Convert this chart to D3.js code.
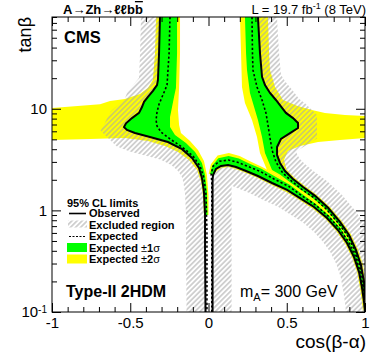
<!DOCTYPE html>
<html>
<head>
<meta charset="utf-8">
<script src="https://cdn.jsdelivr.net/npm/d3@7"></script>
<style>
  body { margin: 0; background: #fff; }
  svg text { font-family: "Liberation Sans", Arial, sans-serif; }
</style>
</head>
<body>
<script>
// axis ticks
const xMajor = [-1, -0.5, 0, 0.5, 1];
const xMinor = [-0.9, -0.8, -0.7, -0.6, -0.4, -0.3, -0.2, -0.1, 0.1, 0.2, 0.3, 0.4, 0.6, 0.7, 0.8, 0.9];
const yMajor = [0.1, 1, 10];
const yMinor = [0.2, 0.3, 0.4, 0.5, 0.6, 0.7, 0.8, 0.9, 2, 3, 4, 5, 6, 7, 8, 9, 20, 30, 40, 50, 60, 70, 80];

// contours as [cos(b-a), tanb]
// left branch
const leftObs = [[-0.310, 80], [-0.316, 35], [-0.323, 19.2], [-0.329, 17.1], [-0.355, 15.0], [-0.387, 13.1],
  [-0.412, 11.7], [-0.425, 10.4], [-0.444, 9.1], [-0.489, 8.1], [-0.527, 7.2], [-0.540, 6.6], [-0.521, 6.18],
  [-0.470, 5.77], [-0.374, 5.27], [-0.259, 4.71], [-0.169, 4.0], [-0.105, 3.28], [-0.061, 2.61], [-0.042, 2.09],
  [-0.029, 1.52], [-0.022, 0.90], [-0.022, 0.41], [-0.019, 0.1]];
const leftExp = [[-0.246, 80], [-0.252, 35], [-0.265, 17.1], [-0.291, 13.7], [-0.316, 11.1], [-0.329, 9.3],
  [-0.335, 7.76], [-0.329, 6.77], [-0.304, 5.9], [-0.246, 5.05], [-0.169, 4.2], [-0.099, 3.43], [-0.054, 2.73],
  [-0.029, 2.09], [-0.016, 1.42], [-0.010, 0.64], [-0.010, 0.1]];
const leftS1Hi = [[-0.201, 80], [-0.201, 35], [-0.208, 16.0], [-0.220, 13.1], [-0.233, 10.4], [-0.246, 8.3],
  [-0.246, 6.6], [-0.214, 5.52], [-0.144, 4.6], [-0.086, 3.75], [-0.042, 2.93], [-0.022, 2.23], [-0.010, 1.52],
  [-0.006, 0.9]];
const leftS2Lo = [[-0.335, 80], [-0.342, 35], [-0.355, 19.2], [-0.387, 16.0], [-0.438, 14.0], [-0.534, 12.5],
  [-0.629, 11.9], [-0.693, 11.1], [-1, 10.2], [-1, 4.93], [-0.757, 5.05], [-0.534, 5.15], [-0.387, 4.82],
  [-0.278, 4.3], [-0.195, 3.75], [-0.125, 3.13], [-0.073, 2.5], [-0.048, 1.9], [-0.035, 1.35], [-0.029, 0.9]];
const leftS2Hi = [[-0.182, 80], [-0.182, 35], [-0.188, 16.0], [-0.195, 9.73], [-0.188, 6.93], [-0.176, 5.77],
  [-0.118, 4.82], [-0.067, 3.93], [-0.029, 3.06], [-0.010, 2.23], [0.0, 1.42], [0.0, 0.9]];

// middle branch
const midObs = [[0.026, 0.1], [0.026, 1.99], [0.029, 2.23], [0.048, 2.56], [0.080, 2.74], [0.125, 2.80],
  [0.176, 2.67], [0.240, 2.44], [0.316, 2.18], [0.406, 1.86], [0.502, 1.59], [0.585, 1.32], [0.674, 1.08],
  [0.757, 0.842], [0.827, 0.641], [0.885, 0.478], [0.930, 0.347], [0.962, 0.247], [0.981, 0.172],
  [0.994, 0.125], [1.0, 0.1]];
const midExp = [[0.021, 0.1], [0.021, 1.90], [0.017, 2.26], [0.029, 2.72], [0.070, 3.04], [0.127, 3.13],
  [0.186, 2.97], [0.252, 2.71], [0.330, 2.42], [0.418, 2.04], [0.514, 1.72], [0.595, 1.40], [0.684, 1.13],
  [0.767, 0.873], [0.838, 0.659], [0.895, 0.488], [0.939, 0.353], [0.969, 0.249], [0.986, 0.173],
  [0.998, 0.125]];
const midS1Hi = [[0.010, 2.28], [0.024, 2.75], [0.063, 3.25], [0.128, 3.43], [0.194, 3.24], [0.259, 2.89],
  [0.338, 2.57], [0.425, 2.15], [0.519, 1.79], [0.600, 1.44], [0.688, 1.15], [0.771, 0.885], [0.842, 0.670],
  [0.899, 0.492], [0.944, 0.356], [0.974, 0.252], [0.990, 0.173], [1.0, 0.126]];
const midS2Hi = [[0.001, 2.30], [0.015, 2.84], [0.058, 3.47], [0.130, 3.67], [0.199, 3.42], [0.265, 3.04],
  [0.343, 2.68], [0.432, 2.26], [0.527, 1.88], [0.608, 1.51], [0.697, 1.20], [0.781, 0.922], [0.855, 0.693],
  [0.912, 0.506], [0.956, 0.361], [0.983, 0.253], [0.997, 0.174], [1.0, 0.126]];
const midS2Lo = [[0.029, 2.23], [0.058, 2.48], [0.084, 2.62], [0.124, 2.67], [0.172, 2.56], [0.235, 2.34],
  [0.311, 2.09], [0.400, 1.79], [0.496, 1.52], [0.578, 1.27], [0.666, 1.04], [0.748, 0.816], [0.817, 0.624],
  [0.874, 0.467], [0.918, 0.342], [0.950, 0.245], [0.968, 0.171], [0.981, 0.125], [0.987, 0.1]];

// right branch
const rightObs = [[0.316, 80], [0.329, 35.4], [0.342, 20.6], [0.361, 17.1], [0.393, 14.3], [0.431, 12.2],
  [0.470, 10.2], [0.495, 9.1], [0.540, 8.1], [0.572, 7.25], [0.572, 6.47], [0.521, 5.77], [0.463, 5.04],
  [0.438, 4.2], [0.438, 3.51], [0.457, 2.93], [0.489, 2.44], [0.540, 2.04], [0.604, 1.70], [0.681, 1.39],
  [0.764, 1.06], [0.840, 0.769], [0.898, 0.573], [0.942, 0.408], [0.974, 0.290], [0.994, 0.197], [1.0, 0.131]];
const rightExp = [[0.278, 80], [0.281, 35], [0.284, 24.1], [0.310, 16.4], [0.342, 12.2], [0.367, 9.1],
  [0.380, 6.93], [0.393, 5.15], [0.406, 3.93], [0.431, 2.99], [0.474, 2.34], [0.530, 1.95], [0.594, 1.62],
  [0.672, 1.34], [0.755, 1.02], [0.830, 0.748], [0.889, 0.562], [0.934, 0.402], [0.968, 0.289],
  [0.989, 0.197], [0.997, 0.131]];
const rightS1In = [[0.233, 80], [0.240, 35], [0.246, 24.1], [0.265, 14.3], [0.316, 7.76], [0.342, 5.27],
  [0.361, 3.67], [0.406, 2.5], [0.459, 2.24], [0.521, 1.89], [0.590, 1.60], [0.668, 1.32], [0.752, 1.02],
  [0.827, 0.743], [0.887, 0.560], [0.930, 0.401], [0.965, 0.288], [0.986, 0.197], [0.995, 0.131]];
const rightS2In = [[0.201, 80], [0.208, 35], [0.214, 16.4], [0.233, 11.4], [0.278, 7.76], [0.310, 5.27],
  [0.329, 3.67], [0.374, 2.5], [0.449, 2.18], [0.512, 1.82], [0.582, 1.54], [0.660, 1.27], [0.743, 0.984],
  [0.817, 0.723], [0.875, 0.547], [0.921, 0.396], [0.956, 0.286], [0.978, 0.196], [0.990, 0.131]];
const rightS2Out = [[0.380, 80], [0.387, 35], [0.393, 24.1], [0.425, 16.4], [0.476, 12.2], [0.565, 10.7],
  [0.661, 9.73], [0.744, 9.1], [0.872, 8.69], [1.0, 8.5], [1.0, 5.15], [0.840, 4.93], [0.700, 4.71],
  [0.585, 4.3], [0.508, 3.84], [0.482, 3.13], [0.499, 2.52], [0.548, 2.11], [0.612, 1.76], [0.689, 1.43],
  [0.773, 1.09], [0.850, 0.790], [0.909, 0.586], [0.955, 0.414], [0.987, 0.293], [1.0, 0.198], [1.0, 0.131]];

const legendLabels = ["Observed", "Excluded region", "Expected", "Expected ", "Expected "];

var w = 374;
var h = 359;
var plotL = 52, plotR = 365, plotT = 17, plotB = 312;

var x = d3.scaleLinear().domain([-1, 1]).range([plotL, plotR]);
var y = d3.scaleLog().domain([0.1, 80]).range([plotB, plotT]);

var line = d3.line().x(d => x(d[0])).y(d => y(d[1]));
function band(a, b) {
  return line(a.concat(b.slice().reverse())) + "Z";
}

var svg = d3.select("body").append("svg")
  .attr("width", w)
  .attr("height", h);

var defs = svg.append("defs");

// hatch pattern for excluded region
var pat = defs.append("pattern")
  .attr("id", "hatch")
  .attr("patternUnits", "userSpaceOnUse")
  .attr("width", 3.6)
  .attr("height", 3.6)
  .attr("patternTransform", "rotate(45)");
pat.append("line")
  .attr("x1", 1.8).attr("y1", 0).attr("x2", 1.8).attr("y2", 3.6)
  .attr("stroke", "#a8a8a8")
  .attr("stroke-width", 1);

defs.append("clipPath").attr("id", "plotArea")
  .append("rect")
  .attr("x", plotL).attr("y", plotT)
  .attr("width", plotR - plotL).attr("height", plotB - plotT);

// excluded sides of the observed contours
defs.append("clipPath").attr("id", "exLeft")
  .append("path")
  .attr("d", line(leftObs.concat([[-0.019, 0.05], [-1.2, 0.05], [-1.2, 200], [-0.310, 200]])) + "Z");
defs.append("clipPath").attr("id", "exMid")
  .append("path")
  .attr("d", line(midObs.concat([[1.2, 0.1], [1.2, 0.05], [0.026, 0.05]])) + "Z");
defs.append("clipPath").attr("id", "exRight")
  .append("path")
  .attr("d", line(rightObs.concat([[1.2, 0.131], [1.2, 200], [0.316, 200]])) + "Z");

var plot = svg.append("g").attr("clip-path", "url(#plotArea)");

// +-2 sigma
plot.append("path").attr("d", band(leftS2Lo, leftS2Hi)).attr("fill", "#ffff00");
plot.append("path").attr("d", band(rightS2In, rightS2Out)).attr("fill", "#ffff00");
plot.append("path").attr("d", band(midS2Lo, midS2Hi)).attr("fill", "#ffff00");

// +-1 sigma
plot.append("path").attr("d", band(leftObs.filter(d => d[1] >= 0.9), leftS1Hi)).attr("fill", "#00ff00");
plot.append("path").attr("d", band(rightS1In, rightObs)).attr("fill", "#00ff00");
plot.append("path").attr("d", band(midObs.slice(2, 19), midS1Hi)).attr("fill", "#00ff00");

// hatched strip on the excluded side
[[leftObs, "exLeft"], [midObs, "exMid"], [rightObs, "exRight"]].forEach(function(c) {
  plot.append("g")
    .attr("clip-path", "url(#" + c[1] + ")")
    .append("path")
    .attr("d", line(c[0]))
    .attr("fill", "none")
    .attr("stroke", "url(#hatch)")
    .attr("stroke-width", 38)
    .attr("stroke-linecap", "square");
});

// expected
[leftExp, midExp, rightExp].forEach(function(c) {
  plot.append("path")
    .attr("d", line(c))
    .attr("fill", "none")
    .attr("stroke", "#000")
    .attr("stroke-width", 1.6)
    .attr("stroke-dasharray", "2.2,2.2");
});

// observed
[leftObs, midObs, rightObs].forEach(function(c) {
  plot.append("path")
    .attr("d", line(c))
    .attr("fill", "none")
    .attr("stroke", "#000")
    .attr("stroke-width", 2);
});

// axes, ticks inside
function styleAxis(g) {
  g.select(".domain").remove();
  g.selectAll("line").attr("stroke", "#000");
  g.attr("font-family", "Liberation Sans, Arial, sans-serif").attr("font-size", 15);
  g.selectAll("text").attr("fill", "#000");
}

svg.append("g")
  .attr("transform", "translate(0," + plotB + ")")
  .call(d3.axisBottom(x).tickValues(xMajor).tickSize(-9).tickPadding(5).tickFormat(d => String(d)))
  .call(styleAxis);
svg.append("g")
  .attr("transform", "translate(0," + plotB + ")")
  .call(d3.axisBottom(x).tickValues(xMinor).tickSize(-5).tickFormat(""))
  .call(styleAxis);
svg.append("g")
  .attr("transform", "translate(0," + plotT + ")")
  .call(d3.axisTop(x).tickValues(xMajor).tickSize(-9).tickFormat(""))
  .call(styleAxis);
svg.append("g")
  .attr("transform", "translate(0," + plotT + ")")
  .call(d3.axisTop(x).tickValues(xMinor).tickSize(-5).tickFormat(""))
  .call(styleAxis);

var yAx = svg.append("g")
  .attr("transform", "translate(" + plotL + ",0)")
  .call(d3.axisLeft(y).tickValues(yMajor).tickSize(-9).tickPadding(5).tickFormat(d => d === 0.1 ? "10" : String(d)))
  .call(styleAxis);
yAx.selectAll(".tick text")
  .filter(d => d === 0.1)
  .append("tspan")
  .attr("dy", "-0.45em")
  .attr("font-size", 10)
  .text("-1");
svg.append("g")
  .attr("transform", "translate(" + plotL + ",0)")
  .call(d3.axisLeft(y).tickValues(yMinor).tickSize(-5).tickFormat(""))
  .call(styleAxis);
svg.append("g")
  .attr("transform", "translate(" + plotR + ",0)")
  .call(d3.axisRight(y).tickValues(yMajor).tickSize(-9).tickFormat(""))
  .call(styleAxis);
svg.append("g")
  .attr("transform", "translate(" + plotR + ",0)")
  .call(d3.axisRight(y).tickValues(yMinor).tickSize(-5).tickFormat(""))
  .call(styleAxis);

// frame
svg.append("rect")
  .attr("x", plotL).attr("y", plotT)
  .attr("width", plotR - plotL).attr("height", plotB - plotT)
  .attr("fill", "none")
  .attr("stroke", "#000")
  .attr("stroke-width", 1);

// axis titles
svg.append("text")
  .attr("transform", "translate(31," + plotT + ") rotate(-90)")
  .attr("text-anchor", "end")
  .attr("font-size", 18)
  .text("tanβ");
svg.append("text")
  .attr("x", 366).attr("y", 348)
  .attr("text-anchor", "end")
  .attr("font-size", 19)
  .text("cos(β-α)");

// header
var hd = svg.append("text")
  .attr("x", 63).attr("y", 14)
  .attr("font-size", 13)
  .attr("font-weight", "bold")
  .text("A→Zh→ℓℓb");
hd.append("tspan").attr("text-decoration", "overline").text("b");

var lumi = svg.append("text")
  .attr("x", 366).attr("y", 14)
  .attr("text-anchor", "end")
  .attr("font-size", 13)
  .text("L = 19.7 fb");
lumi.append("tspan").attr("dy", -5).attr("font-size", 9).text("-1");
lumi.append("tspan").attr("dy", 5).text("  (8 TeV)");

svg.append("text")
  .attr("x", 64).attr("y", 43)
  .attr("font-size", 16.5)
  .attr("font-weight", "bold")
  .text("CMS");

svg.append("text")
  .attr("x", 66).attr("y", 297)
  .attr("font-size", 16)
  .attr("font-weight", "bold")
  .text("Type-II 2HDM");

var ma = svg.append("text")
  .attr("x", 240).attr("y", 297)
  .attr("font-size", 16)
  .text("m");
ma.append("tspan").attr("dy", 4).attr("font-size", 11).text("A");
ma.append("tspan").attr("dy", -4).text("= 300 GeV");

// legend
var lg = svg.append("g");
lg.append("text")
  .attr("x", 67).attr("y", 207)
  .attr("font-size", 11)
  .attr("font-weight", "bold")
  .text("95% CL limits");

var ly = [217, 228.5, 240, 251.5, 263];
legendLabels.forEach(function(t, i) {
  var tx = lg.append("text")
    .attr("x", 89).attr("y", ly[i])
    .attr("font-size", 11)
    .attr("font-weight", "bold")
    .text(t);
  if (i === 3 || i === 4) {
    tx.append("tspan").attr("font-weight", "normal").text("±");
    tx.append("tspan").text(i === 3 ? "1" : "2");
    tx.append("tspan").attr("font-weight", "normal").text("σ");
  }
});
lg.append("line")
  .attr("x1", 69).attr("x2", 86).attr("y1", ly[0] - 3.5).attr("y2", ly[0] - 3.5)
  .attr("stroke", "#000").attr("stroke-width", 1.6);
lg.append("rect")
  .attr("x", 68).attr("y", ly[1] - 8).attr("width", 19).attr("height", 7)
  .attr("fill", "url(#hatch)");
lg.append("line")
  .attr("x1", 69).attr("x2", 86).attr("y1", ly[2] - 3.5).attr("y2", ly[2] - 3.5)
  .attr("stroke", "#000").attr("stroke-width", 1.2).attr("stroke-dasharray", "2,1.5");
lg.append("rect")
  .attr("x", 67).attr("y", ly[3] - 8.5).attr("width", 20).attr("height", 9)
  .attr("fill", "#00ff00");
lg.append("rect")
  .attr("x", 67).attr("y", ly[4] - 8.5).attr("width", 20).attr("height", 9)
  .attr("fill", "#ffff00");
</script>
</body>
</html>
